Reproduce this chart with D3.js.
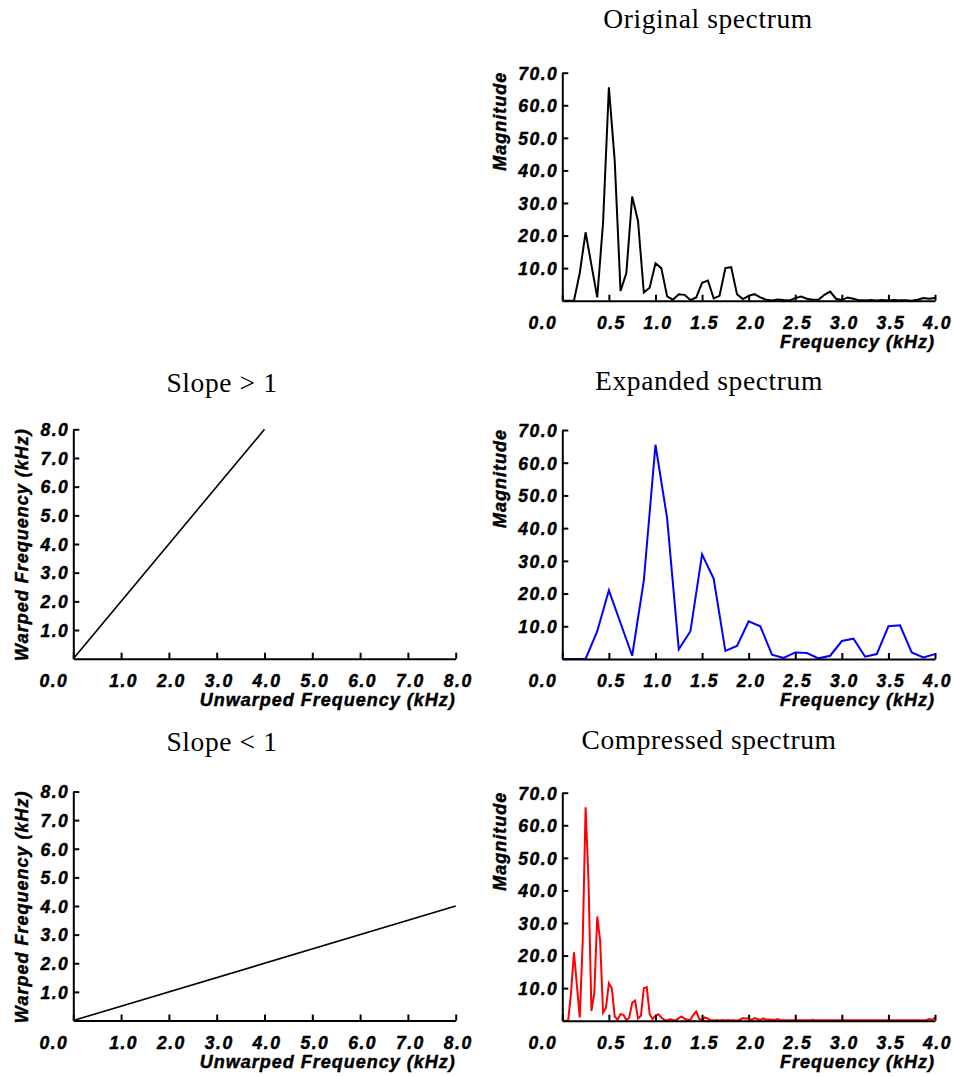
<!DOCTYPE html>
<html>
<head>
<meta charset="utf-8">
<script src="https://cdn.jsdelivr.net/npm/d3@7"></script>
<style>
  html, body { margin: 0; padding: 0; background: #fff; }
  svg { display: block; }
</style>
</head>
<body>
<div id="chart"></div>
<script>
// ---------------- DATA ----------------
// Original magnitude spectrum, sampled every 0.0625 kHz from 0 to 8 kHz
const origStepKHz = 0.0625;
const origMagnitude = [
  0, 0, 0, 8.5, 21, 11, 1, 24, 65.5, 43, 3, 8.5, 32, 24.5, 2.5, 4,
  11.5, 10, 1.3, 0.3, 2, 1.8, 0.2, 1, 5.5, 6.2, 0.7, 1.5, 10, 10.3, 2, 0.5,
  1.5, 2.0, 1.0, 0.3, 0.1, 0.4, 0.2, 0.1, 0.8, 1.3, 0.6, 0.3, 0.3, 1.8, 2.8, 0.6,
  0.2, 1.0, 0.6, 0.1, 0.1, 0.2, 0.1, 0.2, 0.1, 0.2, 0.1, 0.1, 0.0, 0.3, 0.8, 0.6,
  0.8, 0.2, 0.8, 0.5, 0.2, 0.7, 0.3, 0.4, 0.3, 0.2, 0.5, 0.1, 0.1, 0.1, 0.1, 0.1,
  0.1, 0.1, 0.1, 0.1, 0.1, 0.1, 0.3, 0.1, 0.1, 0.1, 0.1, 0.1, 0.1, 0.1, 0.1, 0.1,
  0.1, 0.1, 0.1, 0.1, 0.1, 0.1, 0.1, 0.1, 0.1, 0.1, 0.1, 0.1, 0.1, 0.1, 0.1, 0.1,
  0.1, 0.1, 0.1, 0.1, 0.1, 0.1, 0.1, 0.1, 0.1, 0.1, 0.1, 0.1, 0.1, 0.2, 0.5, 0.3,
  1.0
];
const expandFactor = 2.0;     // slope > 1
const compressFactor = 0.5;   // slope < 1

const specXTicks = [0.0, 0.5, 1.0, 1.5, 2.0, 2.5, 3.0, 3.5, 4.0];
const specYTicks = [10, 20, 30, 40, 50, 60, 70];
const warpTicks = [0, 1, 2, 3, 4, 5, 6, 7, 8];
const warpYTicks = [1, 2, 3, 4, 5, 6, 7, 8];

const slopeUp = [[0, 0], [4, 8]];
const slopeDown = [[0, 0], [8, 4]];

const titles = ["Original spectrum", "Slope > 1", "Expanded spectrum", "Slope < 1", "Compressed spectrum"];

// ---------------- DRAW ----------------
const W = 955, H = 1076;
const svg = d3.select("#chart").append("svg").attr("width", W).attr("height", H)
  .style("background", "#fff");

const serif = "'Liberation Serif','Times New Roman',serif";
const sans = "'Liberation Sans',Arial,Helvetica,sans-serif";

const origPoints = origMagnitude.map((m, i) => ({ f: i * origStepKHz, m }));

function title(text, x, y) {
  svg.append("text").attr("x", x).attr("y", y).attr("text-anchor", "middle")
    .attr("font-family", serif).attr("font-size", 27.5).attr("letter-spacing", 0.6)
    .attr("fill", "#000").text(text);
}

function boldItalic(sel, size, spacing) {
  sel.attr("font-family", sans).attr("font-size", size)
    .attr("font-weight", "bold").attr("font-style", "italic")
    .attr("letter-spacing", spacing).attr("fill", "#000")
    .attr("stroke", "#000").attr("stroke-width", 0.45);
}

function panel(o) {
  const x = d3.scaleLinear().domain(o.xDomain).range([o.left, o.right]);
  const y = d3.scaleLinear().domain(o.yDomain).range([o.bottom, o.top]);
  const g = svg.append("g");

  // data line
  g.append("path").datum(o.data)
    .attr("fill", "none").attr("stroke", o.color).attr("stroke-width", o.lw)
    .attr("stroke-linejoin", "miter")
    .attr("d", d3.line().x(d => x(d[0])).y(d => y(d[1])));

  // x axis
  const xa = g.append("g").attr("transform", `translate(0,${o.bottom})`)
    .call(d3.axisBottom(x).tickValues(o.xTicks).tickSizeInner(-6).tickSizeOuter(0)
      .tickFormat(d3.format(".1f")));
  // y axis
  const ya = g.append("g").attr("transform", `translate(${o.left},0)`)
    .call(d3.axisLeft(y).tickValues(o.yTicks).tickSizeInner(-6).tickSizeOuter(0)
      .tickPadding(4).tickFormat(d3.format(".1f")));

  [xa, ya].forEach(a => {
    a.select(".domain").attr("stroke", "#000").attr("stroke-width", 2);
    a.selectAll(".tick line").attr("stroke", "#000").attr("stroke-width", 2);
    boldItalic(a.selectAll("text"), 17.5, 1.5);
  });
  xa.selectAll(".tick text").attr("y", 28).attr("dy", 0)
    .attr("dx", d => d === 0 ? -20 : 2);
  ya.selectAll(".tick text").attr("dy", "0.36em");

  // axis titles
  boldItalic(svg.append("text").attr("x", o.right).attr("y", o.bottom + 47)
    .attr("text-anchor", "end").text(o.xTitle), 18, 1);
  boldItalic(svg.append("text")
    .attr("transform", `translate(${o.left - o.yTitleOff},${o.top - 1}) rotate(-90)`)
    .attr("text-anchor", "end").text(o.yTitle), 18, 1);
}

const R = { left: 562.3, right: 935 };
const L = { left: 73.3, right: 455.7 };

// Original spectrum
title(titles[0], 708, 28);
panel({
  ...R, top: 72.7, bottom: 300.7, xDomain: [0, 4], yDomain: [0, 70],
  xTicks: specXTicks, yTicks: specYTicks, color: "#000", lw: 2,
  data: origPoints.filter(p => p.f <= 4).map(p => [p.f, p.m]),
  xTitle: "Frequency (kHz)", yTitle: "Magnitude", yTitleOff: 56
});

// Slope > 1
title(titles[1], 222, 392);
panel({
  ...L, top: 429.3, bottom: 658.7, xDomain: [0, 8], yDomain: [0, 8],
  xTicks: warpTicks, yTicks: warpYTicks, color: "#000", lw: 1.6,
  data: slopeUp,
  xTitle: "Unwarped Frequency (kHz)", yTitle: "Warped Frequency (kHz)", yTitleOff: 45
});

// Expanded spectrum
title(titles[2], 709, 390);
panel({
  ...R, top: 430, bottom: 659, xDomain: [0, 4], yDomain: [0, 70],
  xTicks: specXTicks, yTicks: specYTicks, color: "#0000ff", lw: 2,
  data: origPoints.map(p => [p.f * expandFactor, p.m]).filter(d => d[0] <= 4),
  xTitle: "Frequency (kHz)", yTitle: "Magnitude", yTitleOff: 56
});

// Slope < 1
title(titles[3], 222, 751);
panel({
  ...L, top: 791.5, bottom: 1020.5, xDomain: [0, 8], yDomain: [0, 8],
  xTicks: warpTicks, yTicks: warpYTicks, color: "#000", lw: 1.6,
  data: slopeDown,
  xTitle: "Unwarped Frequency (kHz)", yTitle: "Warped Frequency (kHz)", yTitleOff: 45
});

// Compressed spectrum
title(titles[4], 709, 749);
panel({
  ...R, top: 792.7, bottom: 1020.7, xDomain: [0, 4], yDomain: [0, 70],
  xTicks: specXTicks, yTicks: specYTicks, color: "#ff0000", lw: 2,
  data: origPoints.map(p => [p.f * compressFactor, p.m]),
  xTitle: "Frequency (kHz)", yTitle: "Magnitude", yTitleOff: 56
});
</script>
</body>
</html>
